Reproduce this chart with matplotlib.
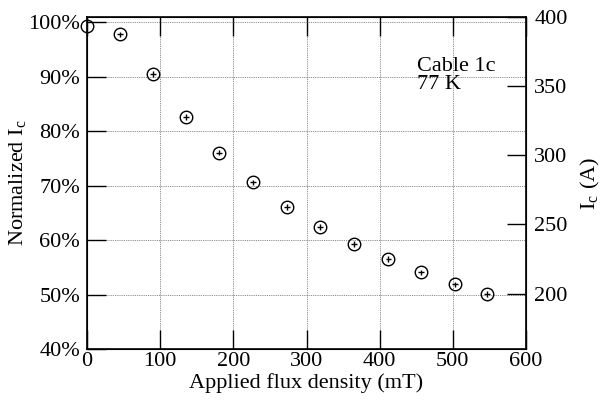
import matplotlib
matplotlib.use('Agg')
import matplotlib.pyplot as plt

plt.rcParams['font.family'] = ['Liberation Serif', 'DejaVu Serif']
plt.rcParams['mathtext.fontset'] = 'stix'

# applied field (mT) and normalized critical current (%)
FIELD = [0, 45, 90, 135, 180, 227, 273, 319, 365, 412, 457, 503, 547]
IC_NORM = [99.4, 97.8, 90.5, 82.6, 76.1, 70.6, 66.1, 62.4, 59.3, 56.5, 54.1, 51.9, 50.1]
FIELD_ERR = [0, 4, 4, 4, 4, 4, 4, 4, 4, 4, 4, 4, 4]
IC_ERR = [0, 0.5, 0.5, 0.5, 0.5, 0.5, 0.5, 0.5, 0.5, 0.5, 0.5, 0.5, 0.5]

X_TICKS = [0, 100, 200, 300, 400, 500, 600]
Y_TICKS = [40, 50, 60, 70, 80, 90, 100]
Y2_TICKS = [200, 250, 300, 350, 400]

FS = 16

fig = plt.figure(figsize=(6.03, 4.05), dpi=100)
ax = fig.add_axes([0.1443, 0.1383, 0.728, 0.8197])

ax.errorbar(FIELD, IC_NORM, xerr=FIELD_ERR, yerr=IC_ERR, fmt='none',
            ecolor='black', elinewidth=1.0, capsize=0, zorder=3)
ax.plot(FIELD, IC_NORM, 'o', ms=9, mfc='none', mec='black', mew=1.0,
        clip_on=False, zorder=4)

ax.set_xlim(0, 600)
ax.set_ylim(40, 101)
ax.set_xticks(X_TICKS)
ax.set_yticks(Y_TICKS)
ax.set_yticklabels(['%d%%' % v for v in Y_TICKS])
ax.grid(True, color='#666666', linestyle=(0, (1, 1.2)), linewidth=0.6)
ax.tick_params(direction='in', length=14, width=1.0, labelsize=FS,
               top=True, right=False)
ax.tick_params(axis='x', pad=2)
ax.tick_params(axis='y', pad=5)
ax.set_xlabel('Applied flux density (mT)', fontsize=FS, labelpad=2)
ax.set_ylabel('Normalized I$_\\mathregular{c}$', fontsize=FS, labelpad=0)
for s in ax.spines.values():
    s.set_linewidth(1.2)

ax.text(451, 93.6, 'Cable 1c\n77 K', fontsize=FS, va='top', ha='left',
        linespacing=0.9)

ax2 = ax.twinx()
ax2.set_ylim(160, 400)
ax2.set_yticks(Y2_TICKS)
ax2.tick_params(direction='in', length=14, width=1.0, labelsize=FS, pad=6)
ax2.set_ylabel('I$_\\mathregular{c}$ (A)', fontsize=FS, labelpad=8)

fig.savefig('out.png', dpi=100)
